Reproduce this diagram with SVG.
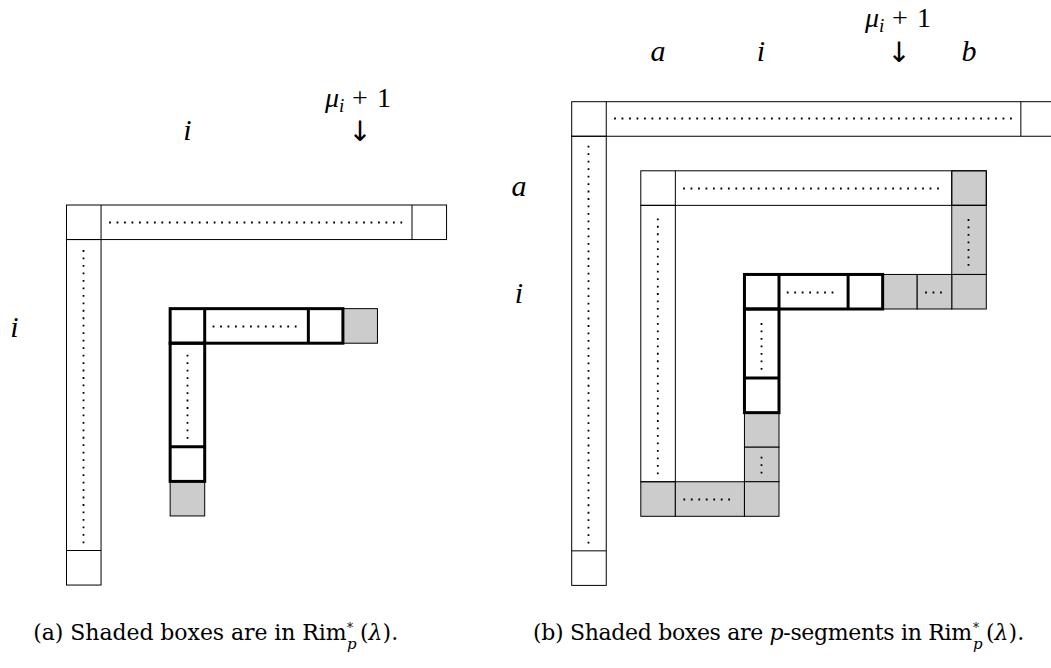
<svg xmlns="http://www.w3.org/2000/svg" width="1051" height="668" viewBox="0 0 1051 668">
<style>
.bg{fill:#fff}
.c{fill:none;stroke:#000;stroke-width:1}
.s{fill:#cccccc;stroke:#000;stroke-width:1}
.t{fill:none;stroke:#000;stroke-width:3}
.d{fill:none;stroke:#000;stroke-width:1.8;stroke-dasharray:1.8 5.67}
.m{font-family:"Liberation Serif",serif;font-style:italic;font-size:30px;fill:#000}
.mu{font-family:"Liberation Serif",serif;font-size:28px;fill:#000}
.ar{font-family:"DejaVu Sans",sans-serif;font-size:28px;fill:#000;text-anchor:middle}
.cap{font-family:"DejaVu Serif",serif;font-size:22px;fill:#000}
.it{font-style:italic}
</style>
<rect class="bg" x="0" y="0" width="1051" height="668"/>

<!-- ===== Diagram (a) ===== -->
<g id="a-outer-row">
<rect class="c" x="66.5" y="205" width="380.05" height="34.55"/>
<line class="c" x1="101.05" y1="205" x2="101.05" y2="239.55"/>
<line class="c" x1="412" y1="205" x2="412" y2="239.55"/>
<line class="d" x1="109.1" y1="222.5" x2="402.2" y2="222.5"/>
</g>
<g id="a-outer-col">
<rect class="c" x="66.5" y="239.55" width="34.55" height="345.5"/>
<line class="c" x1="66.5" y1="550.5" x2="101.05" y2="550.5"/>
<line class="d" x1="83.5" y1="250.1" x2="83.5" y2="543.2"/>
</g>
<g id="a-shaded">
<rect class="s" x="342.9" y="308.65" width="34.55" height="34.55"/>
<rect class="s" x="170.15" y="481.4" width="34.55" height="34.55"/>
</g>
<g id="a-inner-row">
<rect class="t" x="170.15" y="308.65" width="172.75" height="34.55"/>
<line class="t" x1="204.7" y1="308.65" x2="204.7" y2="343.2"/>
<line class="t" x1="308.35" y1="308.65" x2="308.35" y2="343.2"/>
<line class="d" x1="212.6" y1="326.5" x2="296.6" y2="326.5"/>
</g>
<g id="a-inner-col">
<rect class="t" x="170.15" y="343.2" width="34.55" height="138.2"/>
<line class="t" x1="170.15" y1="446.85" x2="204.7" y2="446.85"/>
<line class="d" x1="187.5" y1="354.8" x2="187.5" y2="438.8"/>
</g>
<g id="a-labels">
<text class="m" x="187.5" y="140" text-anchor="middle">i</text>
<text class="m" x="14.5" y="337" text-anchor="middle">i</text>
<text class="mu"><tspan class="it" x="325" y="107">μ</tspan><tspan class="it" font-size="19" dy="5">i</tspan><tspan x="352" dy="-5">+</tspan><tspan x="377">1</tspan></text>
<text class="ar" x="360" y="141">↓︎</text>
</g>

<!-- ===== Diagram (b) ===== -->
<g id="b-outer-row">
<rect class="c" x="571.7" y="101.7" width="483.7" height="34.55"/>
<line class="c" x1="606.25" y1="101.7" x2="606.25" y2="136.25"/>
<line class="c" x1="1020.85" y1="101.7" x2="1020.85" y2="136.25"/>
<line class="d" x1="614.1" y1="118.5" x2="1011.8" y2="118.5"/>
</g>
<g id="b-outer-col">
<rect class="c" x="571.7" y="136.25" width="34.55" height="449.15"/>
<line class="c" x1="571.7" y1="550.85" x2="606.25" y2="550.85"/>
<line class="d" x1="588.5" y1="145.8" x2="588.5" y2="543.5"/>
</g>
<g id="b-shaded">
<rect class="s" x="951.75" y="170.8" width="34.55" height="34.55"/>
<rect class="s" x="951.75" y="205.35" width="34.55" height="69.1"/>
<rect class="s" x="951.75" y="274.45" width="34.55" height="34.55"/>
<rect class="s" x="882.65" y="274.45" width="34.55" height="34.55"/>
<rect class="s" x="917.2" y="274.45" width="34.55" height="34.55"/>
<rect class="s" x="744.45" y="412.65" width="34.55" height="34.55"/>
<rect class="s" x="744.45" y="447.2" width="34.55" height="34.55"/>
<rect class="s" x="640.8" y="481.75" width="34.55" height="34.55"/>
<rect class="s" x="675.35" y="481.75" width="69.1" height="34.55"/>
<rect class="s" x="744.45" y="481.75" width="34.55" height="34.55"/>
<line class="d" x1="968.5" y1="219.1" x2="968.5" y2="265.7"/>
<line class="d" x1="925.1" y1="292.5" x2="941.8" y2="292.5"/>
<line class="d" x1="761.5" y1="456.8" x2="761.5" y2="473.5"/>
<line class="d" x1="683.4" y1="499.5" x2="730" y2="499.5"/>
</g>
<g id="b-inner-row">
<rect class="c" x="640.8" y="170.8" width="345.5" height="34.55"/>
<line class="c" x1="675.35" y1="170.8" x2="675.35" y2="205.35"/>
<line class="c" x1="951.75" y1="170.8" x2="951.75" y2="205.35"/>
<line class="d" x1="683.1" y1="188.5" x2="938.9" y2="188.5"/>
</g>
<g id="b-inner-col">
<rect class="c" x="640.8" y="205.35" width="34.55" height="276.4"/>
<line class="d" x1="657.8" y1="218.4" x2="657.8" y2="474.2"/>
</g>
<g id="b-thick-row">
<rect class="t" x="744.45" y="274.45" width="138.2" height="34.55"/>
<line class="t" x1="779" y1="274.45" x2="779" y2="309"/>
<line class="t" x1="848.1" y1="274.45" x2="848.1" y2="309"/>
<line class="d" x1="786.8" y1="292.5" x2="833.4" y2="292.5"/>
</g>
<g id="b-thick-col">
<rect class="t" x="744.45" y="309" width="34.55" height="103.65"/>
<line class="t" x1="744.45" y1="378.1" x2="779" y2="378.1"/>
<line class="d" x1="761.5" y1="323.1" x2="761.5" y2="369.7"/>
</g>
<g id="b-labels">
<text class="m" x="658" y="60.5" text-anchor="middle">a</text>
<text class="m" x="761" y="60.5" text-anchor="middle">i</text>
<text class="m" x="969" y="60.5" text-anchor="middle">b</text>
<text class="m" x="519" y="196" text-anchor="middle">a</text>
<text class="m" x="519" y="303" text-anchor="middle">i</text>
<text class="mu"><tspan class="it" x="865" y="27">μ</tspan><tspan class="it" font-size="19" dy="5">i</tspan><tspan x="892" dy="-5">+</tspan><tspan x="917">1</tspan></text>
<text class="ar" x="899" y="62">↓︎</text>
</g>

<!-- ===== Captions ===== -->
<g id="captions">
<text class="cap" x="33.3" y="640" textLength="313.4" lengthAdjust="spacing">(a) Shaded boxes are in Rim</text>
<text class="cap"><tspan x="347" y="632" font-size="12">*</tspan><tspan class="it" x="347" y="649" font-size="15">p</tspan><tspan x="360" y="640">(</tspan><tspan class="it">λ</tspan><tspan>).</tspan></text>
<text class="cap" x="533" y="640" textLength="439" lengthAdjust="spacing">(b) Shaded boxes are <tspan class="it">p</tspan>-segments in Rim</text>
<text class="cap"><tspan x="973" y="632" font-size="12">*</tspan><tspan class="it" x="973" y="649" font-size="15">p</tspan><tspan x="986" y="640">(</tspan><tspan class="it">λ</tspan><tspan>).</tspan></text>
</g>
</svg>
